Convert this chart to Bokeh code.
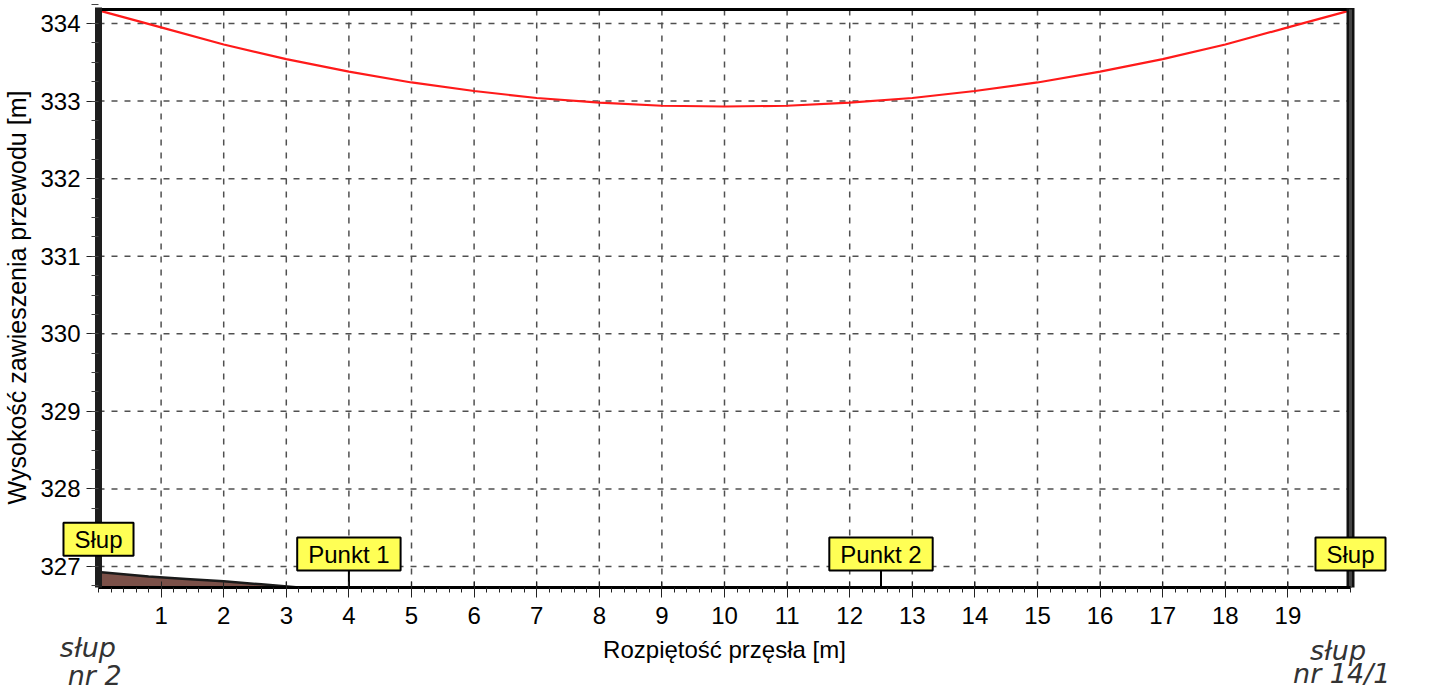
from bokeh.plotting import figure
from bokeh.models import Range1d, FixedTicker, Label
from bokeh.embed import file_html
from bokeh.resources import INLINE

# ---- data ----
span_x = list(range(0, 21))
cable_y = [334.17, 333.95, 333.73, 333.54, 333.38, 333.24, 333.13, 333.04, 332.98, 332.94,
           332.93, 332.94, 332.98, 333.04, 333.13, 333.24, 333.38, 333.54, 333.73, 333.95, 334.17]
terrain_x = [0, 0.8, 1.4, 2.0, 2.6, 3.2]
terrain_y = [326.93, 326.87, 326.84, 326.81, 326.77, 326.73]
ground = 326.73
top = 334.18
span_start, span_end = 0, 20
x_ticks = list(range(1, 20))
y_ticks = list(range(327, 335))
markers = [("Słup", 0, 327.35), ("Punkt 1", 4, 327.16), ("Punkt 2", 12.5, 327.16), ("Słup", 20, 327.16)]
leader_x = [4, 12.5]
notes = [("słup", -0.17, 325.96), ("nr 2", -0.06, 325.60), ("słup", 19.80, 325.92), ("nr 14/1", 19.86, 325.62)]
x_title = "Rozpiętość przęsła [m]"
y_title = "Wysokość zawieszenia przewodu [m]"

FONT = "Liberation Sans"

# ---- layout of the canvas (pixel placement of the span inside the page) ----
W, H = 1400, 690
X_ORIGIN, PX_PER_M = 98.0, 62.6        # canvas x of span start, pixels per metre
Y_REF_PX, Y_REF, PX_PER_H = 566.0, 327.0, 77.57
x_range = Range1d(-X_ORIGIN / PX_PER_M, (W - X_ORIGIN) / PX_PER_M)
y_range = Range1d(Y_REF - (H - Y_REF_PX) / PX_PER_H, Y_REF + Y_REF_PX / PX_PER_H)

p = figure(width=W, height=H, output_backend="svg", toolbar_location=None,
           x_range=x_range, y_range=y_range,
           min_border_left=0, min_border_right=0, min_border_top=0, min_border_bottom=0)
p.background_fill_color = "white"
p.border_fill_color = "white"
p.outline_line_color = None
p.xgrid.visible = False
p.ygrid.visible = False

# grid (only inside the span)
GRID = dict(line_color="#505050", line_dash="6 7", line_width=1.5)
p.segment(x0=x_ticks, y0=[ground] * len(x_ticks), x1=x_ticks, y1=[top] * len(x_ticks), **GRID)
p.segment(x0=[span_start] * len(y_ticks), y0=y_ticks, x1=[span_end] * len(y_ticks), y1=y_ticks, **GRID)

# terrain
p.varea(x=terrain_x, y1=[ground] * len(terrain_x), y2=terrain_y, fill_color="#7b5048")
p.line(x=terrain_x, y=terrain_y, line_color="#1a1a1a", line_width=2.5)

# cable
p.line(x=span_x, y=cable_y, line_color="#ff1a1a", line_width=2.2)

# top border and right pole
p.segment(x0=[span_start], y0=[top], x1=[span_end], y1=[top], line_color="black", line_width=3)
p.segment(x0=[span_end], y0=[ground], x1=[span_end], y1=[top + 0.02], line_color="#111111", line_width=8)
p.segment(x0=[span_end], y0=[ground], x1=[span_end], y1=[top], line_color="#444444", line_width=3)

# leader lines
p.segment(x0=leader_x, y0=[ground] * 2, x1=leader_x, y1=[327.16] * 2, line_color="black", line_width=2)

# axes (fixed at the span's ground line and left pole)
xa = p.xaxis[0]
xa.fixed_location = ground
xa.bounds = (span_start, span_end)
xa.ticker = FixedTicker(ticks=x_ticks, minor_ticks=[i / 5 for i in range(0, 101)])
xa.axis_label = x_title
xa.axis_line_width = 3
xa.axis_line_color = "black"
xa.major_tick_in = 6
xa.major_tick_out = 10
xa.minor_tick_in = 0
xa.minor_tick_out = 5
xa.major_tick_line_color = "#222"
xa.minor_tick_line_color = "#222"
xa.major_label_standoff = 10
xa.axis_label_standoff = 8

ya = p.yaxis[0]
ya.fixed_location = span_start
ya.bounds = (ground, top + 0.02)
ya.ticker = FixedTicker(ticks=y_ticks, minor_ticks=[326.75 + i * 0.25 for i in range(0, 31)])
ya.axis_label = y_title
ya.axis_line_width = 7
ya.axis_line_color = "#1e1e1e"
ya.major_tick_in = 0
ya.major_tick_out = 12
ya.minor_tick_in = 0
ya.minor_tick_out = 7
ya.major_tick_line_color = "#222"
ya.minor_tick_line_color = "#444"
ya.major_label_standoff = 6
ya.axis_label_standoff = 6

for ax in (xa, ya):
    ax.major_label_text_font = FONT
    ax.major_label_text_font_size = "24px"
    ax.major_label_text_color = "black"
    ax.axis_label_text_font = FONT
    ax.axis_label_text_font_style = "normal"
    ax.axis_label_text_color = "black"
xa.axis_label_text_font_size = "24px"
ya.axis_label_text_font_size = "25px"

# marker labels
for txt, mx, my in markers:
    p.add_layout(Label(x=mx, y=my, text=txt, text_align="center", text_baseline="middle",
                       text_font=FONT, text_font_size="24px", text_color="black",
                       background_fill_color="#ffff55", border_line_color="black",
                       border_line_width=2, padding=(11, 3)))

# handwritten notes
for txt, nx, ny in notes:
    p.add_layout(Label(x=nx, y=ny, text=txt, text_align="center", text_baseline="middle",
                       text_font="DejaVu Sans", text_font_style="italic", text_font_size="27px",
                       text_color="#333333"))

open("out.html", "w").write(file_html(p, INLINE))
